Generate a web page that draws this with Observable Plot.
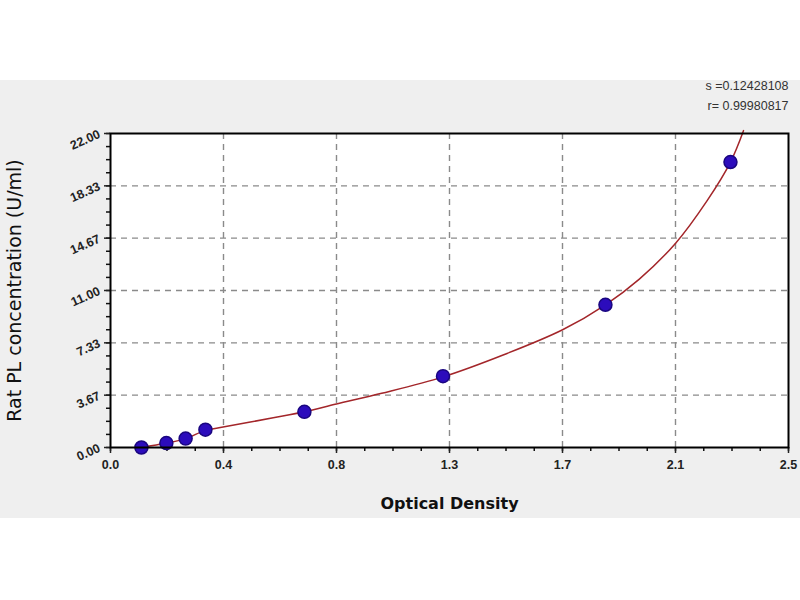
<!DOCTYPE html>
<html>
<head>
<meta charset="utf-8">
<script src="https://cdn.jsdelivr.net/npm/d3@7"></script>
<script src="https://cdn.jsdelivr.net/npm/@observablehq/plot@0.6"></script>
<style>
  body { margin: 0; background: white; }
  #chart {
    position: absolute; top: 66px; left: 0; width: 800px; height: 452px;
    background: linear-gradient(to bottom, white 0, white 14px, #efefef 14px, #efefef 100%);
  }
</style>
</head>
<body>
<div id="chart"></div>
<script>
// standards (optical density -> concentration)
const standardOD = [0.114, 0.206, 0.277, 0.350, 0.715, 1.226, 1.825, 2.286]
const standardConc = [0, 0.3125, 0.625, 1.25, 2.5, 5, 10, 20]

// fitted curve
const fitOD = [0.114, 0.206, 0.277, 0.35, 0.4, 0.6, 0.715, 0.833, 1.0, 1.226, 1.45, 1.667, 1.825, 1.95, 2.083, 2.2, 2.286, 2.334]
const fitConc = [0, 0.31, 0.62, 1.2, 1.38, 2.08, 2.5, 3.05, 3.8, 4.95, 6.5, 8.25, 10.0, 11.8, 14.3, 17.3, 20.0, 22.2]

const xTickLabels = ['0.0', '0.4', '0.8', '1.3', '1.7', '2.1', '2.5']
const yTickLabels = ['0.00', '3.67', '7.33', '11.00', '14.67', '18.33', '22.00']
const fitStats = ['s =0.12428108', 'r= 0.99980817']

const xMax = 2.5
const yMax = 22

const standards = standardOD.map((od, i) => ({od, conc: standardConc[i]}))
const fit = fitOD.map((od, i) => ({od, conc: fitConc[i]}))

const xTicks = xTickLabels.map((_, i) => i * xMax / (xTickLabels.length - 1))
const yTicks = yTickLabels.map((_, i) => i * yMax / (yTickLabels.length - 1))
const xMinor = d3.range(0, 25).map(i => i * xMax / 24)
const yMinor = d3.range(0, 25).map(i => i * yMax / 24)

const labelOf = (ticks, labels) => d => labels[ticks.findIndex(t => Math.abs(t - d) < 1e-9)]

const gridStyle = {stroke: '#8a8a8a', strokeOpacity: 1, strokeWidth: 1.4, strokeDasharray: '6,5'}

let chart = Plot.plot({
  width: 800,
  height: 452,
  marginLeft: 110,
  marginRight: 12,
  marginTop: 67,
  marginBottom: 71,
  style: {background: 'transparent', fontFamily: 'Liberation Sans, Arial, sans-serif'},
  x: {domain: [0, xMax], axis: null, label: null},
  y: {domain: [0, yMax], axis: null, label: null},
  marks: [
    Plot.frame({fill: 'white'}),
    Plot.gridX(xTicks.slice(1, -1), gridStyle),
    Plot.gridY(yTicks.slice(1, -1), gridStyle),
    // minor ticks
    Plot.axisX({ticks: xMinor, tickSize: 4, tickFormat: () => '', label: null, color: '#111', strokeWidth: 1.5}),
    Plot.axisY({ticks: yMinor, tickSize: 4, tickFormat: () => '', label: null, color: '#111', strokeWidth: 1.5}),
    // major ticks
    Plot.axisX({
      ticks: xTicks, tickSize: 6, tickPadding: 7, tickFormat: labelOf(xTicks, xTickLabels),
      color: '#222', strokeWidth: 1.5, fontSize: 12.5, fontWeight: 'bold', label: null
    }),
    Plot.axisY({
      ticks: yTicks, tickSize: 6, tickPadding: 5, tickRotate: -24, tickFormat: labelOf(yTicks, yTickLabels),
      color: '#222', strokeWidth: 1.5, fontSize: 12.5, fontWeight: 'bold', label: null
    }),
    Plot.line(fit, {x: 'od', y: 'conc', curve: 'catmull-rom', stroke: '#a3262a', strokeWidth: 1.5}),
    Plot.dot(standards, {x: 'od', y: 'conc', r: 6.5, fill: '#2c0cbc', stroke: '#1a0680', strokeWidth: 1.5}),
    Plot.frame({stroke: '#000', strokeWidth: 2}),
    Plot.text([fitStats[0]], {text: d => d, frameAnchor: 'top-right', textAnchor: 'end', dy: -52, fontSize: 12.5, fill: '#333'}),
    Plot.text([fitStats[1]], {text: d => d, frameAnchor: 'top-right', textAnchor: 'end', dy: -32, fontSize: 12.5, fill: '#333'}),
    Plot.text(['Optical Density'], {
      text: d => d, frameAnchor: 'bottom', dy: 61, fontSize: 16, fontWeight: 'bold',
      fontFamily: 'DejaVu Sans, sans-serif', fill: '#111'
    }),
    Plot.text(['Rat PL concentration (U/ml)'], {
      text: d => d, frameAnchor: 'left', textAnchor: 'middle', dx: -96, rotate: -90, fontSize: 19,
      fontFamily: 'DejaVu Sans, sans-serif', fill: '#111'
    })
  ]
})

d3.select('#chart').append(() => chart)
</script>
</body>
</html>
